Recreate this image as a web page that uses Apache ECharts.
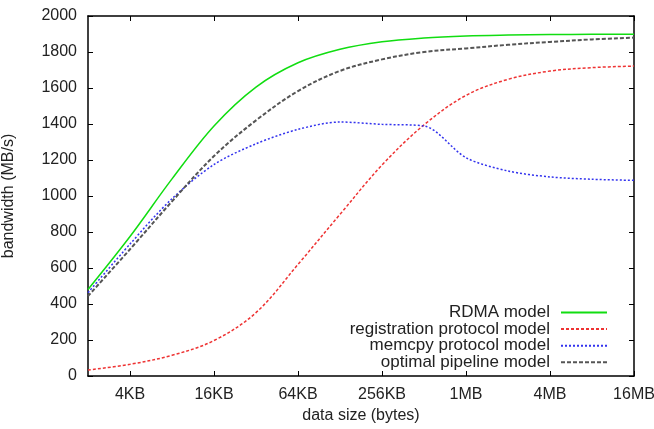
<!DOCTYPE html>
<html>
<head>
<meta charset="utf-8">
<script src="https://cdn.jsdelivr.net/npm/echarts@6/dist/echarts.min.js"></script>
<style>
  html, body { margin: 0; padding: 0; background: #fff; }
  #chart { width: 654px; height: 429px; }
</style>
</head>
<body>
<div id="chart"></div>
<script>
// data size in KB (2KB .. 16MB)
const sizesKB = [2, 4, 8, 16, 32, 64, 128, 256, 512, 1024, 2048, 4096, 8192, 16384]
const rdma = [481, 775, 1095, 1389, 1605, 1740, 1815, 1857, 1878, 1889, 1894, 1897, 1898, 1899]
const registration = [33, 65, 115, 197, 352, 620, 898, 1172, 1395, 1559, 1648, 1694, 1713, 1722]
const memcpy = [463, 733, 985, 1175, 1290, 1370, 1411, 1398, 1389, 1213, 1139, 1106, 1093, 1087]
const optimal = [444, 704, 970, 1222, 1420, 1583, 1695, 1759, 1800, 1820, 1840, 1856, 1870, 1880]
const xTicks = [4, 16, 64, 256, 1024, 4096, 16384]

const font = 'Liberation Sans'
const chart = echarts.init(document.getElementById('chart'))

function pairs(vals) {
  return sizesKB.map((s, i) => [s, vals[i]])
}

function sizeLabel(v) {
  return v >= 1024 ? Math.round(v / 1024) + 'MB' : Math.round(v) + 'KB'
}

const axisLine = { show: true, onZero: false, lineStyle: { color: '#000', width: 1.5 } }
const tickIn = { show: true, inside: true, length: 5, lineStyle: { color: '#000', width: 1 } }

chart.setOption({
  animation: false,
  grid: { left: 88, right: 20, top: 16, bottom: 53, outerBoundsMode: 'none', containLabel: false },
  legend: {
    orient: 'vertical',
    align: 'right',
    right: 41,
    top: 299,
    itemWidth: 46,
    itemHeight: 10,
    itemGap: -0.4,
    itemStyle: { opacity: 0 },
    textStyle: { fontFamily: font, fontSize: 17, lineHeight: 16, color: '#222', padding: [0, 6, 0, 0] },
    data: ['RDMA model', 'registration protocol model', 'memcpy protocol model', 'optimal pipeline model']
  },
  xAxis: [
    {
      type: 'log',
      logBase: 2,
      min: 2,
      max: 16384,
      name: 'data size (bytes)',
      nameLocation: 'middle',
      nameGap: 32,
      nameTextStyle: { fontFamily: font, fontSize: 16, color: '#222' },
      axisLine,
      axisTick: Object.assign({ customValues: xTicks }, tickIn),
      minorTick: { show: false },
      splitLine: { show: false },
      axisLabel: {
        customValues: xTicks,
        formatter: sizeLabel,
        fontFamily: font,
        fontSize: 16,
        color: '#222',
        margin: 11
      }
    },
    {
      type: 'log',
      logBase: 2,
      min: 2,
      max: 16384,
      position: 'top',
      axisLine,
      axisTick: Object.assign({ customValues: xTicks }, tickIn),
      axisLabel: { show: false },
      splitLine: { show: false }
    }
  ],
  yAxis: [
    {
      type: 'value',
      min: 0,
      max: 2000,
      interval: 200,
      name: 'bandwidth (MB/s)',
      nameLocation: 'middle',
      nameGap: 71,
      nameTextStyle: { fontFamily: font, fontSize: 16, color: '#222' },
      axisLine,
      axisTick: tickIn,
      splitLine: { show: false },
      axisLabel: { fontFamily: font, fontSize: 16, color: '#222', margin: 11, formatter: v => String(v) }
    },
    {
      type: 'value',
      min: 0,
      max: 2000,
      interval: 200,
      position: 'right',
      axisLine,
      axisTick: tickIn,
      axisLabel: { show: false },
      splitLine: { show: false }
    }
  ],
  series: [
    {
      name: 'RDMA model',
      type: 'line',
      data: pairs(rdma),
      smooth: 0.35,
      symbol: 'none',
      color: '#11dd11',
      lineStyle: { color: '#11dd11', width: 1.5, type: 'solid' }
    },
    {
      name: 'registration protocol model',
      type: 'line',
      data: pairs(registration),
      smooth: 0.35,
      symbol: 'none',
      color: '#ee3333',
      lineStyle: { color: '#ee3333', width: 1.5, type: [3, 2] }
    },
    {
      name: 'memcpy protocol model',
      type: 'line',
      data: pairs(memcpy),
      smooth: 0.3,
      symbol: 'none',
      color: '#3333ee',
      lineStyle: { color: '#3333ee', width: 1.5, type: [2, 2] }
    },
    {
      name: 'optimal pipeline model',
      type: 'line',
      data: pairs(optimal),
      smooth: 0.35,
      symbol: 'none',
      color: '#555555',
      lineStyle: { color: '#555555', width: 2, type: [4, 2] }
    }
  ]
})
</script>
</body>
</html>
